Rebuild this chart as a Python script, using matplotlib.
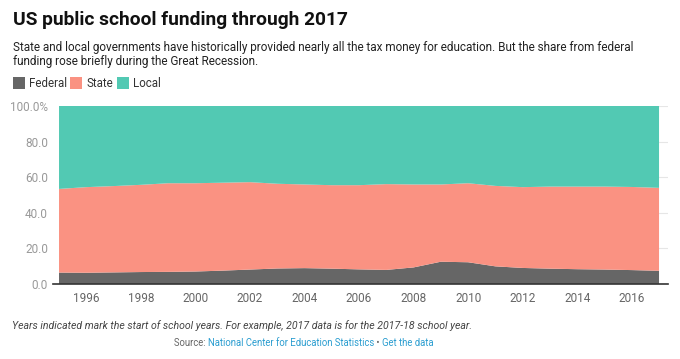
import matplotlib
matplotlib.use('Agg')
import matplotlib.pyplot as plt

plt.rcParams['font.family'] = ['Roboto', 'DejaVu Sans']

# school years (start year)
years = list(range(1995, 2018))
# share of funding, percent
federal = [6.4, 6.3, 6.5, 6.7, 6.8, 7.0, 7.5, 8.1, 8.7, 8.9, 8.6, 8.2, 7.9,
           9.3, 12.5, 12.2, 9.9, 9.0, 8.6, 8.3, 8.1, 7.8, 7.4]
state = [47.0, 48.1, 48.5, 49.0, 49.8, 49.6, 49.4, 49.1, 47.6, 47.0, 46.9, 47.3, 48.2,
         46.6, 43.4, 44.4, 45.2, 45.4, 46.1, 46.4, 46.6, 46.7, 46.6]
local = [46.6, 45.6, 45.0, 44.3, 43.4, 43.4, 43.1, 42.8, 43.7, 44.1, 44.5, 44.5, 43.9,
         44.1, 44.1, 43.4, 44.9, 45.6, 45.3, 45.3, 45.3, 45.5, 46.0]
series_names = ['Federal', 'State', 'Local']
colors = ['#666666', '#fa9282', '#52c9b3']
ytick_vals = [0, 20, 40, 60, 80, 100]
ytick_labels = ['0.0', '20.0', '40.0', '60.0', '80.0', '100.0%']
xtick_vals = list(range(1996, 2017, 2))

fig = plt.figure(figsize=(6.8, 3.59), dpi=100)
ax = fig.add_axes([0.0868, 0.209, 0.8956, 0.4958])

ax.stackplot(years, federal, state, local, colors=colors, linewidth=0, zorder=2)

ax.set_xlim(1995, 2017.33)
ax.set_ylim(0, 100)
ax.set_yticks(ytick_vals)
ax.set_yticklabels(ytick_labels)
ax.set_xticks(xtick_vals)
ax.tick_params(axis='y', length=0, pad=8, labelsize=8.5, labelcolor='#999999')
ax.tick_params(axis='x', length=0, pad=6, labelsize=8.5, labelcolor='#666666')
for s in ax.spines.values():
    s.set_visible(False)
ax.grid(axis='y', color='#e6e6e6', linewidth=0.8, zorder=1)
ax.axhline(0, xmin=-0.01, xmax=1.0, color='#333333', linewidth=1.2, clip_on=False, zorder=3)

# title and subtitle
fig.text(0.019, 0.944, 'US public school funding through 2017', fontsize=13.8,
         fontweight='bold', color='#111111', va='center')
fig.text(0.019, 0.848, 'State and local governments have historically provided nearly all the tax money '
         'for education. But the share from federal\nfunding rose briefly during the Great Recession.',
         fontsize=8.45, color='#222222', va='center', linespacing=1.12)

# legend
leg_x = [0.019, 0.103, 0.172]
for name, col, lx in zip(series_names, colors, leg_x):
    fig.patches.append(plt.Rectangle((lx, 0.752), 0.0175, 0.033, transform=fig.transFigure,
                                     facecolor=col, edgecolor='none'))
    fig.text(lx + 0.024, 0.768, name, fontsize=8.3, color='#333333', va='center')

# footer
fig.text(0.017, 0.093, 'Years indicated mark the start of school years. For example, '
         '2017 data is for the 2017-18 school year.', fontsize=7.6, style='italic',
         color='#444444', va='center')

parts = [('Source: ', '#666666'), ('National Center for Education Statistics', '#2a9dd0'),
         (' \u2022 ', '#666666'), ('Get the data', '#2a9dd0')]
fig.canvas.draw()
renderer = fig.canvas.get_renderer()
texts = [fig.text(0, 0.045, p, fontsize=6.85, color=c, va='center') for p, c in parts]
widths = [t.get_window_extent(renderer).width / fig.bbox.width for t in texts]
x = 0.447 - sum(widths) / 2
for t, w in zip(texts, widths):
    t.set_x(x)
    x += w

fig.savefig('out.png', dpi=100)
